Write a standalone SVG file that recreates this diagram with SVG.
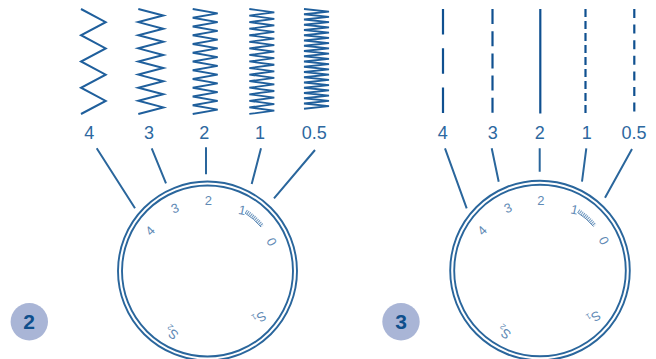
<svg xmlns="http://www.w3.org/2000/svg" width="656" height="359" viewBox="0 0 656 359">
<style>
text{font-family:"Liberation Sans",Arial,sans-serif}
.bg{fill:#fff}
.zig{fill:none;stroke:#1f5f9c;stroke-width:2;stroke-linejoin:miter}
.zigf{fill:none;stroke:#1f5f9c;stroke-width:1.8}
.st{fill:none;stroke:#0f5090;stroke-width:2.2}
.lead{stroke:#2a669c;stroke-width:2;fill:none}
.lab{font-size:18px;fill:#2d68a0;text-anchor:middle}
.ring{fill:none;stroke:#2a669c;stroke-width:1.9}
.dl{font-size:13px;fill:#5f8ab5;text-anchor:middle}
.sub{font-size:8px}
.badge{fill:#a9b5d6}
.bt{font-size:21px;font-weight:bold;fill:#0f4f8c;text-anchor:middle}
.tk{fill:none;stroke:#6f98c0;stroke-width:3.6;stroke-dasharray:1 1}
.te{fill:none;stroke:#5f8ab5;stroke-width:1}
</style>
<rect class="bg" width="656" height="359"/>
<g id="stitches-zigzag">
<path class="zig" d="M81 9l24.700 13.125-24.700 13.125 24.700 13.125-24.700 13.125 24.700 13.125-24.700 13.125 24.700 13.125-24.700 13.125"/>
<path class="zig" d="M138.300 9l25 6.560-25 6.560 25 6.560-25 6.560 25 6.560-25 6.560 25 6.560-25 6.560 25 6.560-25 6.560 25 6.560-25 6.560 25 6.560-25 6.560 25 6.560-25 6.560"/>
<path class="zig" d="M192.700 9l25 4.375-25 4.375 25 4.375-25 4.375 25 4.375-25 4.375 25 4.375-25 4.375 25 4.375-25 4.375 25 4.375-25 4.375 25 4.375-25 4.375 25 4.375-25 4.375 25 4.375-25 4.375 25 4.375-25 4.375 25 4.375-25 4.375 25 4.375-25 4.375"/>
<path class="zigf" d="M249.300 9l25 3.280-25 3.280 25 3.280-25 3.280 25 3.280-25 3.280 25 3.280-25 3.280 25 3.280-25 3.280 25 3.280-25 3.280 25 3.280-25 3.280 25 3.280-25 3.280 25 3.280-25 3.280 25 3.280-25 3.280 25 3.280-25 3.280 25 3.280-25 3.280 25 3.280-25 3.280 25 3.280-25 3.280 25 3.280-25 3.280 25 3.280-25 3.280"/>
<path class="zigf" d="M304 9l25 2.625-25 2.625 25 2.625-25 2.625 25 2.625-25 2.625 25 2.625-25 2.625 25 2.625-25 2.625 25 2.625-25 2.625 25 2.625-25 2.625 25 2.625-25 2.625 25 2.625-25 2.625 25 2.625-25 2.625 25 2.625-25 2.625 25 2.625-25 2.625 25 2.625-25 2.625 25 2.625-25 2.625 25 2.625-25 2.625 25 2.625-25 2.625 25 2.625-25 2.625 25 2.625-25 2.625 25 2.625-25 2.625"/>
</g>
<g id="stitches-straight">
<path class="st" stroke-dasharray="25.500 13.800" d="M443 9V114"/>
<path class="st" stroke-dasharray="15 7.200" d="M492.500 9V114"/>
<path class="st" d="M540.300 9V113.500"/>
<path class="st" stroke-dasharray="8 4" d="M585.500 9V113.500"/>
<path class="st" stroke-dasharray="9 6.600" d="M634.300 9V112.500"/>
</g>
<g id="connectors">
<path class="lead" d="M96.700 148.300L135 208.300M151.700 148.300L166 183.300M206 147.300V174.300M261 148.300L251.700 184M315 150L274 198.300"/>
<path class="lead" d="M445 148.300L466.700 208.300M491.700 148.300L498.700 181.700M539.700 148.300V171.700M586.300 148.300L582 181.700M632 149L605 197.700"/>
</g>
<g id="labels-left">
<text class="lab" x="89.300" y="139">4</text><text class="lab" x="149" y="139">3</text><text class="lab" x="204.300" y="139">2</text><text class="lab" x="260" y="139">1</text><text class="lab" x="314.300" y="139">0.5</text>
</g>
<g id="labels-right">
<text class="lab" x="442.700" y="139">4</text><text class="lab" x="492.700" y="139">3</text><text class="lab" x="539.700" y="139">2</text><text class="lab" x="586.700" y="139">1</text><text class="lab" x="634" y="139">0.5</text>
</g>
<g id="dial-left" transform="translate(207.500 271)">
<circle class="ring" r="89.500"/><circle class="ring" r="85.500"/>
<path class="tk" d="M38.500 -59.800A71 71 0 0 1 55 -45"/>
<path class="te" d="M37.500 -58A69 69 0 0 1 53.500 -44"/>
<text class="dl" transform="translate(-57.500 -40.300) rotate(-45) translate(0 4.500)">4</text>
<text class="dl" transform="translate(-32.500 -62.700) rotate(-22) translate(0 4.500)">3</text>
<text class="dl" transform="translate(.800 -70.300) translate(0 4.500)">2</text>
<text class="dl" transform="translate(34.800 -61) rotate(12) translate(0 4.500)">1</text>
<text class="dl" transform="translate(64.200 -29.300) rotate(62) translate(0 4.500)">0</text>
<text class="dl" transform="translate(52 47) rotate(150) translate(0 4.500)">S<tspan class="sub" dy="2">1</tspan></text>
<text class="dl" transform="translate(-36 62) rotate(-142) translate(0 4.500)">S<tspan class="sub" dy="2">2</tspan></text>
</g>
<g id="dial-right" transform="translate(540 270.500)">
<circle class="ring" r="89.800"/><circle class="ring" r="85.800"/>
<path class="tk" d="M38.500 -59.800A71 71 0 0 1 55 -45"/>
<path class="te" d="M37.500 -58A69 69 0 0 1 53.500 -44"/>
<text class="dl" transform="translate(-58 -40) rotate(-45) translate(0 4.500)">4</text>
<text class="dl" transform="translate(-32 -62.500) rotate(-22) translate(0 4.500)">3</text>
<text class="dl" transform="translate(.800 -70.500) translate(0 4.500)">2</text>
<text class="dl" transform="translate(34.500 -61) rotate(12) translate(0 4.500)">1</text>
<text class="dl" transform="translate(64 -30) rotate(62) translate(0 4.500)">0</text>
<text class="dl" transform="translate(54 47) rotate(150) translate(0 4.500)">S<tspan class="sub" dy="2">1</tspan></text>
<text class="dl" transform="translate(-36 62) rotate(-142) translate(0 4.500)">S<tspan class="sub" dy="2">2</tspan></text>
</g>
<g id="badge-2"><circle class="badge" cx="29.300" cy="321.700" r="18.700"/><text class="bt" x="29" y="329.300">2</text></g>
<g id="badge-3"><circle class="badge" cx="401" cy="321.700" r="18.700"/><text class="bt" x="401" y="329.300">3</text></g>
</svg>
